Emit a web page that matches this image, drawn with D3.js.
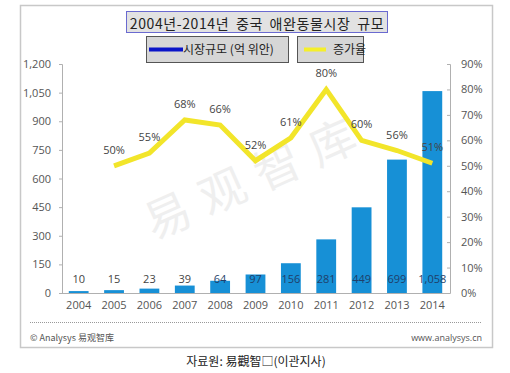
<!DOCTYPE html>
<html>
<head>
<meta charset="utf-8">
<script src="https://cdn.jsdelivr.net/npm/d3@7"></script>
<style>
  body { margin: 0; background: #fff; }
  svg { display: block; }
</style>
</head>
<body>
<div id="chart"></div>
<script>
// chart values
var years = ["2004", "2005", "2006", "2007", "2008", "2009", "2010", "2011", "2012", "2013", "2014"];
var marketSize = [10, 15, 23, 39, 64, 97, 156, 281, 449, 699, 1058];
var growthYears = ["2005", "2006", "2007", "2008", "2009", "2010", "2011", "2012", "2013", "2014"];
var growthRate = [50, 55, 68, 66, 52, 61, 80, 60, 56, 51];
var leftTicks = [0, 150, 300, 450, 600, 750, 900, 1050, 1200];
var rightTicks = [0, 10, 20, 30, 40, 50, 60, 70, 80, 90];

var title = "2004년-2014년 중국 애완동물시장 규모";
var legendNames = ["시장규모 (억 위안)", "증가율"];

var W = 510, H = 373;
var plotLeft = 62, plotRight = 450;

var svg = d3.select("#chart").append("svg")
    .attr("width", W)
    .attr("height", H);

var numFont = "'Open Sans', 'Noto Sans', sans-serif";
var krFont = "'Noto Sans CJK KR', sans-serif";

// outer frame
svg.append("rect")
    .attr("x", 20.5).attr("y", 5.5)
    .attr("width", 472).attr("height", 342)
    .attr("fill", "#fff")
    .attr("stroke", "#c8c8c8")
    .attr("stroke-width", 1.5);

// scales
var x = d3.scaleBand()
    .domain(years)
    .range([plotLeft - 1, plotRight])
    .paddingInner(0.44)
    .paddingOuter(0.22);

var yL = d3.scaleLinear().domain([0, 1200]).range([293, 64]);
var yR = d3.scaleLinear().domain([0, 90]).range([293, 64]);

// watermark
svg.append("text")
    .attr("transform", "translate(258,180) rotate(-24)")
    .attr("text-anchor", "middle")
    .attr("dominant-baseline", "middle")
    .attr("font-family", "'Noto Sans CJK SC', sans-serif")
    .attr("font-size", 46)
    .attr("letter-spacing", 14)
    .attr("fill", "#efefef")
    .text("易观智库");

// left axis
var gL = svg.append("g")
    .attr("transform", "translate(" + plotLeft + ",0)")
    .call(d3.axisLeft(yL).tickValues(leftTicks).tickSize(3).tickPadding(8)
        .tickFormat(d3.format(",")));
gL.select(".domain").attr("stroke", "#b0b0b0");
gL.selectAll(".tick line").attr("stroke", "#b0b0b0");
gL.selectAll("text")
    .attr("font-family", numFont)
    .attr("font-size", 11)
    .attr("fill", "#555");

// right axis
var gR = svg.append("g")
    .attr("transform", "translate(" + plotRight + ",0)")
    .call(d3.axisRight(yR).tickValues(rightTicks).tickSize(-3).tickPadding(11)
        .tickFormat(function(d) { return d + "%"; }));
gR.select(".domain").attr("stroke", "#b0b0b0");
gR.selectAll(".tick line").attr("stroke", "#b0b0b0");
gR.selectAll("text")
    .attr("font-family", numFont)
    .attr("font-size", 11)
    .attr("fill", "#555");

// bars
svg.append("g")
    .selectAll("rect")
    .data(marketSize)
    .enter().append("rect")
        .attr("x", function(d, i) { return x(years[i]); })
        .attr("y", function(d) { return yL(d); })
        .attr("width", x.bandwidth())
        .attr("height", function(d) { return yL(0) - yL(d); })
        .attr("fill", "#1790d6");

// x axis
var gX = svg.append("g")
    .attr("transform", "translate(0,293)")
    .call(d3.axisBottom(x).tickSize(0).tickPadding(8));
gX.select(".domain").attr("stroke", "#b0b0b0").attr("d", "M" + plotLeft + ",0.5H" + plotRight);
gX.selectAll("text")
    .attr("font-family", numFont)
    .attr("font-size", 11)
    .attr("fill", "#555");

// bar value labels, all sit near the base
svg.append("g")
    .selectAll("text")
    .data(marketSize)
    .enter().append("text")
        .attr("x", function(d, i) { return x(years[i]) + x.bandwidth() / 2; })
        .attr("y", 283)
        .attr("text-anchor", "middle")
        .attr("font-family", numFont)
        .attr("font-size", 11)
        .attr("fill", function(d) { return d >= 64 ? "#1f3f6a" : "#444"; })
        .text(d3.format(","));

// growth line
var cx = function(yr) { return x(yr) + x.bandwidth() / 2; };
var line = d3.line()
    .x(function(d, i) { return cx(growthYears[i]); })
    .y(function(d) { return yR(d); });

svg.append("path")
    .datum(growthRate)
    .attr("d", line)
    .attr("fill", "none")
    .attr("stroke", "#f2e52a")
    .attr("stroke-width", 5)
    .attr("stroke-linejoin", "miter");

svg.append("g")
    .selectAll("text")
    .data(growthRate)
    .enter().append("text")
        .attr("x", function(d, i) { return cx(growthYears[i]); })
        .attr("y", function(d) { return yR(d) - 12; })
        .attr("text-anchor", "middle")
        .attr("font-family", numFont)
        .attr("font-size", 11)
        .attr("fill", "#444")
        .text(function(d) { return d + "%"; });

// title box
svg.append("rect")
    .attr("x", 126.5).attr("y", 11.5)
    .attr("width", 261).attr("height", 21)
    .attr("fill", "#e2e2e2")
    .attr("stroke", "#6a6ad0")
    .attr("stroke-width", 1);
svg.append("text")
    .attr("x", 257).attr("y", 22.5)
    .attr("text-anchor", "middle")
    .attr("dominant-baseline", "central")
    .attr("font-family", krFont)
    .attr("font-size", 14)
    .attr("letter-spacing", 0.6)
    .attr("word-spacing", 3)
    .attr("fill", "#222")
    .text(title);

// legend
var legendBoxes = [
    {x: 146.5, w: 142, color: "#0a14c8", lx0: 149, lx1: 183, tx: 183},
    {x: 297.5, w: 66, color: "#f5ef2a", lx0: 304, lx1: 326, tx: 333}
];
legendBoxes.forEach(function(b, i) {
    svg.append("rect")
        .attr("x", b.x).attr("y", 36.5)
        .attr("width", b.w).attr("height", 26)
        .attr("fill", "#d6d6d6")
        .attr("stroke", "#555")
        .attr("stroke-width", 1);
    svg.append("line")
        .attr("x1", b.lx0).attr("x2", b.lx1)
        .attr("y1", 49.5).attr("y2", 49.5)
        .attr("stroke", b.color)
        .attr("stroke-width", 4);
    svg.append("text")
        .attr("x", b.tx).attr("y", 48)
        .attr("dominant-baseline", "central")
        .attr("font-family", krFont)
        .attr("font-size", 12)
        .attr("fill", "#222")
        .text(legendNames[i]);
});

// footer
svg.append("line")
    .attr("x1", 30).attr("x2", 482)
    .attr("y1", 322.5).attr("y2", 322.5)
    .attr("stroke", "#999")
    .attr("stroke-dasharray", "1,1");
svg.append("text")
    .attr("x", 30).attr("y", 337)
    .attr("dominant-baseline", "central")
    .attr("font-family", "'Noto Sans CJK SC', sans-serif")
    .attr("font-size", 9)
    .attr("fill", "#555")
    .text("© Analysys 易观智库");
svg.append("text")
    .attr("x", 482).attr("y", 337)
    .attr("text-anchor", "end")
    .attr("dominant-baseline", "central")
    .attr("font-family", numFont)
    .attr("font-size", 9)
    .attr("fill", "#555")
    .text("www.analysys.cn");

// caption below the frame
svg.append("text")
    .attr("x", 256).attr("y", 360)
    .attr("text-anchor", "middle")
    .attr("dominant-baseline", "central")
    .attr("font-family", krFont)
    .attr("font-size", 12)
    .attr("fill", "#222")
    .text("자료원: 易觀智□(이관지사)");
</script>
</body>
</html>
